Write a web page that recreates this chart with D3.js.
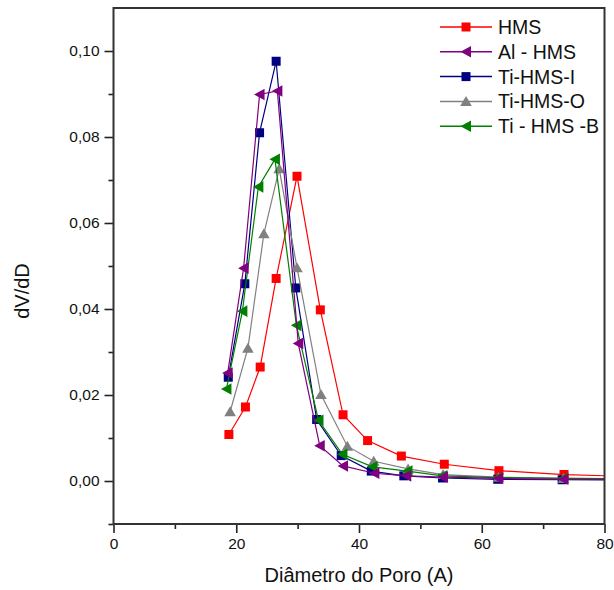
<!DOCTYPE html>
<html>
<head>
<meta charset="utf-8">
<script src="https://cdn.jsdelivr.net/npm/d3@7"></script>
<style>
html,body{margin:0;padding:0;background:#fff;}
svg{display:block;font-family:"Liberation Sans",Arial,sans-serif;}
</style>
</head>
<body>
<svg id="chart" width="614" height="590"></svg>
<script>
// ---- data ----
const seriesNames = ["HMS", "Al - HMS", "Ti-HMS-I", "Ti-HMS-O", "Ti - HMS -B"];
const seriesColors = ["#ff0000", "#800080", "#000080", "#808080", "#008000"];
const seriesMarkers = ["square", "left", "square", "up", "left"];

const xHMS  = [18.8, 21.5, 23.9, 26.5, 29.9, 33.7, 37.4, 41.4, 46.9, 53.9, 62.8, 73.4, 90];
const yHMS  = [0.0108, 0.0172, 0.0265, 0.0471, 0.0709, 0.0398, 0.0154, 0.0094, 0.0058, 0.0039, 0.0024, 0.0015, 0.0008];

const xAl   = [18.6, 21.2, 23.8, 26.7, 30.1, 33.6, 37.4, 42.5, 47.7, 53.7, 62.7, 73.3, 90];
const yAl   = [0.0251, 0.0495, 0.0899, 0.0907, 0.0320, 0.0082, 0.0035, 0.0018, 0.0012, 0.0009, 0.0006, 0.0004, 0.0003];

const xTiI  = [18.7, 21.4, 23.8, 26.5, 29.7, 33.1, 37.1, 42.0, 47.3, 53.6, 62.6, 73.1, 90];
const yTiI  = [0.0241, 0.0459, 0.0810, 0.0976, 0.0449, 0.0143, 0.0059, 0.0023, 0.0012, 0.0007, 0.0004, 0.0003, 0.0002];

const xTiO  = [19.0, 21.9, 24.5, 27.0, 29.9, 33.8, 38.1, 42.4, 48.0, 53.7, 62.7, 73.3, 90];
const yTiO  = [0.0161, 0.0309, 0.0575, 0.0726, 0.0496, 0.0201, 0.0081, 0.0046, 0.0028, 0.0015, 0.0009, 0.0006, 0.0005];

const xTiB  = [18.4, 21.0, 23.6, 26.3, 29.8, 33.4, 37.3, 42.2, 47.9, 53.6, 62.6, 73.3, 90];
const yTiB  = [0.0214, 0.0395, 0.0684, 0.0748, 0.0362, 0.0141, 0.0062, 0.0033, 0.0023, 0.0012, 0.0008, 0.0006, 0.0005];

const xTicks = [0, 20, 40, 60, 80];
const xMinorTicks = [10, 30, 50, 70];
const yTicks = [0.00, 0.02, 0.04, 0.06, 0.08, 0.10];
const yTickLabels = ["0,00", "0,02", "0,04", "0,06", "0,08", "0,10"];
const yMinorTicks = [-0.01, 0.01, 0.03, 0.05, 0.07, 0.09];

const xTitle = "Diâmetro do Poro (A)";
const yTitle = "dV/dD";

// ---- build ----
const allX = [xHMS, xAl, xTiI, xTiO, xTiB];
const allY = [yHMS, yAl, yTiI, yTiO, yTiB];
const series = seriesNames.map((n, i) => ({
  name: n, color: seriesColors[i], marker: seriesMarkers[i],
  pts: allX[i].map((x, j) => ({x: x, y: allY[i][j]}))
}));

const L = 113.5, R = 604.5, T = 8, B = 524;
const x = d3.scaleLinear().domain([0, 80]).range([L, R]);
const y = d3.scaleLinear().domain([-0.01, 0.11]).range([B, T]);

const svg = d3.select("#chart");

svg.append("defs").append("clipPath").attr("id", "clip")
  .append("rect").attr("x", L).attr("y", T).attr("width", R - L).attr("height", B - T);

function markerPath(type) {
  if (type === "square") return "M-4.5,-4.5H4.5V4.5H-4.5Z";
  if (type === "left") return "M-5.5,0L5,-5.8L5,5.8Z";
  if (type === "up") return "M0,-5.5L5.8,4.5L-5.8,4.5Z";
  return "";
}

const plot = svg.append("g").attr("clip-path", "url(#clip)");
const line = d3.line().x(d => x(d.x)).y(d => y(d.y));

const drawOrder = [0, 2, 3, 4, 1];
drawOrder.forEach(i => {
  const s = series[i];
  const g = plot.append("g");
  g.append("path").datum(s.pts).attr("d", line)
    .attr("fill", "none").attr("stroke", s.color).attr("stroke-width", 1.2);
  g.selectAll("path.m").data(s.pts).enter().append("path").attr("class", "m")
    .attr("d", markerPath(s.marker))
    .attr("transform", d => `translate(${x(d.x)},${y(d.y)})`)
    .attr("fill", s.color);
});

// axes
const xAxis = d3.axisBottom(x).tickValues(xTicks).tickSize(9).tickPadding(5).tickFormat(d3.format("d"));
const gx = svg.append("g").attr("transform", `translate(0,${B})`).call(xAxis);
gx.select(".domain").remove();
gx.selectAll(".tick line").attr("stroke", "#222").attr("stroke-width", 1.6);
gx.selectAll("text").attr("font-size", 15.5).attr("fill", "#111");

const xMinor = d3.axisBottom(x).tickValues(xMinorTicks).tickSize(5).tickFormat("");
const gxm = svg.append("g").attr("transform", `translate(0,${B})`).call(xMinor);
gxm.select(".domain").remove();
gxm.selectAll(".tick line").attr("stroke", "#222").attr("stroke-width", 1.6);

const yAxis = d3.axisLeft(y).tickValues(yTicks).tickSize(9).tickPadding(5)
  .tickFormat((d, i) => yTickLabels[i]);
const gy = svg.append("g").attr("transform", `translate(${L},0)`).call(yAxis);
gy.select(".domain").remove();
gy.selectAll(".tick line").attr("stroke", "#222").attr("stroke-width", 1.6);
gy.selectAll("text").attr("font-size", 15.5).attr("fill", "#111");

const yMinor = d3.axisLeft(y).tickValues(yMinorTicks).tickSize(5).tickFormat("");
const gym = svg.append("g").attr("transform", `translate(${L},0)`).call(yMinor);
gym.select(".domain").remove();
gym.selectAll(".tick line").attr("stroke", "#222").attr("stroke-width", 1.6);

// frame
svg.append("rect").attr("x", L).attr("y", T).attr("width", R - L).attr("height", B - T)
  .attr("fill", "none").attr("stroke", "#333").attr("stroke-width", 2);

// titles
svg.append("text").attr("x", (L + R) / 2 - 0).attr("y", 582).attr("text-anchor", "middle")
  .attr("font-size", 20).attr("fill", "#111").text(xTitle);
svg.append("text").attr("transform", `translate(29,${(T + B) / 2 + 25}) rotate(-90)`)
  .attr("text-anchor", "middle").attr("font-size", 20).attr("fill", "#111").text(yTitle);

// legend
const leg = svg.append("g");
series.forEach((s, i) => {
  const cy = 27 + i * 24.8;
  leg.append("line").attr("x1", 440).attr("x2", 492).attr("y1", cy).attr("y2", cy)
    .attr("stroke", s.color).attr("stroke-width", 1.5);
  leg.append("path").attr("d", markerPath(s.marker))
    .attr("transform", `translate(466,${cy})`).attr("fill", s.color);
  leg.append("text").attr("x", 498).attr("y", cy + 7).attr("font-size", 19.5)
    .attr("fill", "#111").text(s.name);
});
</script>
</body>
</html>
